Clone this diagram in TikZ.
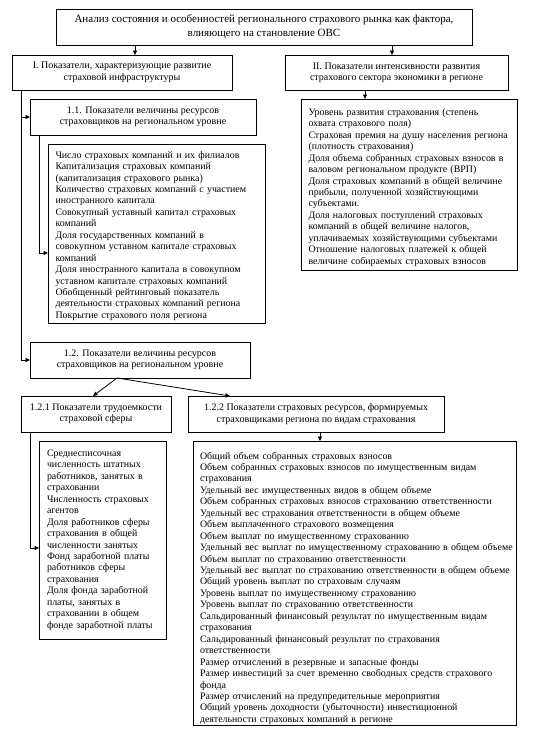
\documentclass[tikz,border=0pt]{standalone}
\usepackage{fontspec}
\setmainfont{Liberation Serif}
\usetikzlibrary{arrows.meta,calc}
\newcommand{\itemlines}[2][0pt]{\raisebox{0pt}[\dimexpr\height+#1\relax][\depth]{\begin{tabular}{@{}l@{}}#2\end{tabular}}}
\begin{document}
\begin{tikzpicture}[x=1pt,y=-1pt,
  every node/.style={inner sep=0pt, outer sep=0pt},
  frame/.style={draw=black, line width=0.8pt, rectangle, anchor=north west},
  hbox/.style={frame, align=center, font=\fontsize{10}{11.4}\selectfont},
  ibox/.style={frame, align=left, inner xsep=7.5pt, font=\fontsize{9.9}{11.45}\selectfont},
  arr/.style={draw=black, line width=0.8pt, -{Triangle[length=4.5pt,width=4pt]}}]
\useasboundingbox (0,0) rectangle (534,736);
\fill[white] (0,0) rectangle (534,736);

\node[hbox, minimum width=416pt, minimum height=36pt, font=\fontsize{11}{13.7}\selectfont] (top) at (56,9)
  {Анализ состояния и особенностей регионального страхового рынка как фактора,\\ влияющего на становление ОВС};

\node[hbox, minimum width=220pt, minimum height=35pt] (Ibox) at (12,55)
  {I. Показатели, характеризующие развитие\\ страховой инфраструктуры};
\node[hbox, minimum width=223pt, minimum height=35pt] (IIbox) at (285,55)
  {II. Показатели интенсивности развития\\ страхового сектора экономики в регионе};

\node[hbox, minimum width=226pt, minimum height=36pt] (b11) at (30,99)
  {1.1. Показатели величины ресурсов\\ страховщиков на региональном уровне};

\node[ibox, minimum width=217pt, text width=202pt, minimum height=179pt] (i11) at (48,144)
  {\itemlines[5pt]{Число страховых компаний и их филиалов\\
   Капитализация страховых компаний\\
   (капитализация страхового рынка)\\
   Количество страховых компаний с участием\\
   иностранного капитала\\
   Совокупный уставный капитал страховых\\
   компаний\\
   Доля государственных компаний в\\
   совокупном уставном капитале страховых\\
   компаний\\
   Доля иностранного капитала в совокупном\\
   уставном капитале страховых компаний\\
   Обобщенный рейтинговый показатель\\
   деятельности страховых компаний региона\\
   Покрытие страхового поля региона}};

\node[ibox, minimum width=216pt, text width=201pt, minimum height=171pt] (iII) at (301,99)
  {\itemlines[6pt]{Уровень развития страхования (степень\\
   охвата страхового поля)\\
   Страховая премия на душу населения региона\\
   (плотность страхования)\\
   Доля объема собранных страховых взносов в\\
   валовом региональном продукте (ВРП)\\
   Доля страховых компаний в общей величине\\
   прибыли, полученной хозяйствующими\\
   субъектами.\\
   Доля налоговых поступлений страховых\\
   компаний в общей величине налогов,\\
   уплачиваемых хозяйствующими субъектами\\
   Отношение налоговых платежей к общей\\
   величине собираемых страховых взносов}};

\node[hbox, minimum width=220pt, minimum height=36pt] (b12) at (30,342)
  {1.2. Показатели величины ресурсов\\ страховщиков на региональном уровне};

\node[hbox, minimum width=150pt, minimum height=36pt] (b121) at (21,396)
  {1.2.1 Показатели трудоемкости\\ страховой сферы};
\node[hbox, minimum width=256pt, minimum height=36pt] (b122) at (188,396)
  {1.2.2 Показатели страховых ресурсов, формируемых\\ страховщиками региона по видам страхования};

\node[ibox, minimum width=127pt, text width=111pt, minimum height=198pt, inner xsep=8pt] (i121) at (39,441)
  {\itemlines{Среднесписочная\\
   численность штатных\\
   работников, занятых в\\
   страховании\\
   Численность страховых\\
   агентов\\
   Доля работников сферы\\
   страхования в общей\\
   численности занятых\\
   Фонд заработной платы\\
   работников сферы\\
   страхования\\
   Доля фонда заработной\\
   платы, занятых в\\
   страховании в общем\\
   фонде заработной платы}};

\node[ibox, minimum width=323pt, text width=309pt, minimum height=280pt, inner xsep=7pt] (i122) at (193,441)
  {\itemlines[10pt]{Общий объем собранных страховых взносов\\
   Объем собранных страховых взносов по имущественным видам\\
   страхования\\
   Удельный вес имущественных видов в общем объеме\\
   Объем собранных страховых взносов страхованию ответственности\\
   Удельный вес страхования ответственности в общем объеме\\
   Объем выплаченного страхового возмещения\\
   Объем выплат по имущественному страхованию\\
   Удельный вес выплат по имущественному страхованию в общем объеме\\
   Объем выплат по страхованию ответственности\\
   Удельный вес выплат по страхованию ответственности в общем объеме\\
   Общий уровень выплат по страховым случаям\\
   Уровень выплат по имущественному страхованию\\
   Уровень выплат по страхованию ответственности\\
   Сальдированный финансовый результат по имущественным видам\\
   страхования\\
   Сальдированный финансовый результат по страхования\\
   ответственности\\
   Размер отчислений в резервные и запасные фонды\\
   Размер инвестиций за счет временно свободных средств страхового\\
   фонда\\
   Размер отчислений на предупредительные мероприятия\\
   Общий уровень доходности (убыточности) инвестиционной\\
   деятельности страховых компаний в регионе}};

% helper coordinates
\coordinate (xI) at (135,0);
\coordinate (xII) at (392,0);
\coordinate (xL) at (21,0);
\coordinate (x11) at (39,253);
\coordinate (xIIi) at (365,0);
\coordinate (s12) at (117,0);
\coordinate (e121) at (93,0);
\coordinate (e122) at (230,0);
\coordinate (x121) at (30,548);
\coordinate (x122) at (320,0);

\draw[arr] (xI |- top.south) -- (xI |- Ibox.north);
\draw[arr] (xII |- top.south) -- (xII |- IIbox.north);
\draw[arr] (xL |- Ibox.south) |- (b11.west);
\draw[arr] (xL |- Ibox.south) |- (b12.west);
\draw[arr] (x11 |- b11.south) |- (x11 -| i11.west);
\draw[arr] (xIIi |- IIbox.south) -- (xIIi |- iII.north);
\draw[arr] (s12 |- b12.south) -- (e121 |- b121.north);
\draw[arr] (s12 |- b12.south) -- (e122 |- b122.north);
\draw[arr] (x121 |- b121.south) |- (x121 -| i121.west);
\draw[arr] (x122 |- b122.south) -- (x122 |- i122.north);
\end{tikzpicture}
\end{document}
